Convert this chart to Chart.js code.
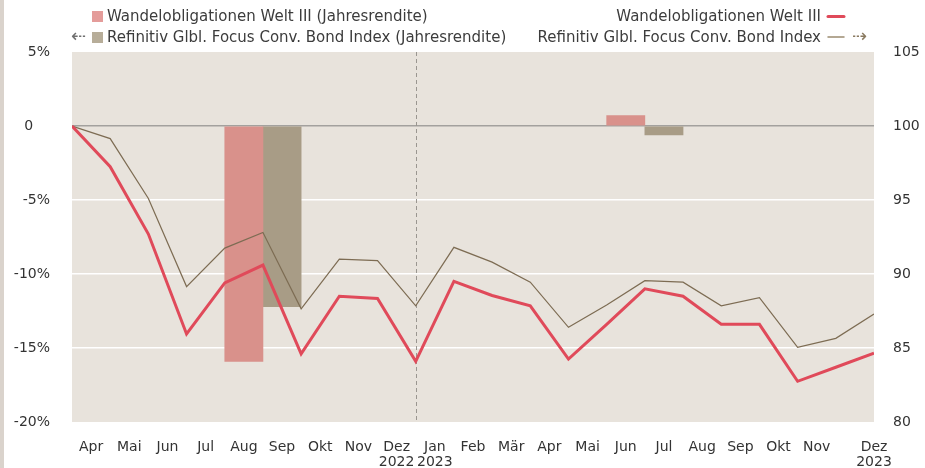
<!DOCTYPE html>
<html>
<head>
<meta charset="utf-8">
<script src="https://cdn.jsdelivr.net/npm/chart.js@4"></script>
<style>
  html, body { margin: 0; padding: 0; background: #fff; }
  #wrap { position: relative; width: 925px; height: 468px; }
  #stripe { position: absolute; left: 0; top: 0; width: 4px; height: 468px; background: #dad3cc; }
</style>
</head>
<body>
<div id="wrap">
  <canvas id="chart" width="925" height="468"></canvas>
  <div id="stripe"></div>
</div>
<script>
// months Apr 2022 .. Dez 2023
const months = ['Apr', 'Mai', 'Jun', 'Jul', 'Aug', 'Sep', 'Okt', 'Nov', 'Dez', 'Jan', 'Feb', 'Mär',
                'Apr', 'Mai', 'Jun', 'Jul', 'Aug', 'Sep', 'Okt', 'Nov', 'Dez'];
const years = ['', '', '', '', '', '', '', '', '2022', '2023', '', '', '', '', '', '', '', '', '', '', '2023'];

// indexed values at month ends (start = 100)
const fund = [100, 97.25, 92.7, 85.95, 89.4, 90.6, 84.6, 88.5, 88.35, 84.1, 89.5, 88.55,
              87.85, 84.25, 86.6, 89.0, 88.5, 86.6, 86.6, 82.75, 83.7, 84.65];
const index = [100, 99.15, 95.1, 89.15, 91.75, 92.8, 87.65, 91.0, 90.9, 87.85, 91.8, 90.8,
               89.45, 86.4, 87.9, 89.55, 89.45, 87.85, 88.4, 85.05, 85.65, 87.3];

// annual returns in %, with the month slot they are drawn in
const fundYearly = [-15.9, 0.7];
const fundYearlySlot = [4, 14];
const indexYearly = [-12.2, -0.6];
const indexYearlySlot = [5, 15];

const red = '#e04a5a';
const brown = '#7d6c53';
const txt = '#3c3c3c';
const font = 'DejaVu Sans';

const bgPlugin = {
  id: 'plotBg',
  beforeDraw(chart) {
    const { ctx, chartArea: a } = chart;
    ctx.save();
    ctx.fillStyle = '#e8e3dc';
    ctx.fillRect(a.left, a.top, a.right - a.left, a.bottom - a.top);
    ctx.restore();
  },
  beforeDatasetsDraw(chart) {
    // dashed year separator
    const { ctx, chartArea: a } = chart;
    const x = Math.round(chart.scales.x.getPixelForValue(9)) + 0.5;
    ctx.save();
    ctx.strokeStyle = '#9a9690';
    ctx.lineWidth = 1;
    ctx.setLineDash([4, 3]);
    ctx.beginPath();
    ctx.moveTo(x, a.top);
    ctx.lineTo(x, a.bottom);
    ctx.stroke();
    ctx.restore();
  }
};

const legendPlugin = {
  id: 'customLegend',
  afterDraw(chart) {
    const ctx = chart.ctx;
    ctx.save();
    ctx.font = '15px "' + font + '"';
    ctx.textBaseline = 'middle';

    // left column: bars
    ctx.fillStyle = '#e49c9a';
    ctx.fillRect(92, 11, 11, 11);
    ctx.fillStyle = '#b7ad99';
    ctx.fillRect(92, 32, 11, 11);
    ctx.fillStyle = txt;
    ctx.textAlign = 'left';
    ctx.fillText('Wandelobligationen Welt III (Jahresrendite)', 107, 17);
    ctx.fillText('Refinitiv Glbl. Focus Conv. Bond Index (Jahresrendite)', 107, 38);

    // right column: lines
    ctx.textAlign = 'right';
    ctx.fillText('Wandelobligationen Welt III', 821, 17);
    ctx.fillText('Refinitiv Glbl. Focus Conv. Bond Index', 821, 38);
    ctx.lineCap = 'round';
    ctx.strokeStyle = red;
    ctx.lineWidth = 3;
    ctx.beginPath(); ctx.moveTo(828, 16.5); ctx.lineTo(844, 16.5); ctx.stroke();
    ctx.strokeStyle = '#9c8c70';
    ctx.lineWidth = 1.5;
    ctx.beginPath(); ctx.moveTo(828, 37); ctx.lineTo(844, 37); ctx.stroke();

    // axis arrows
    ctx.font = '18px "' + font + '"';
    ctx.textAlign = 'left';
    ctx.fillStyle = '#6f6f6f';
    ctx.fillText('\u21E0', 71, 37);
    ctx.fillStyle = '#8a7a60';
    ctx.fillText('\u21E2', 852, 37);
    ctx.restore();
  }
};

new Chart(document.getElementById('chart'), {
  data: {
    datasets: [
      {
        type: 'line',
        label: 'Wandelobligationen Welt III',
        data: fund.map((v, i) => ({ x: i, y: v })),
        yAxisID: 'y2',
        borderColor: red,
        borderWidth: 3,
        pointRadius: 0,
        tension: 0,
        order: 0
      },
      {
        type: 'line',
        label: 'Refinitiv Glbl. Focus Conv. Bond Index',
        data: index.map((v, i) => ({ x: i, y: v })),
        yAxisID: 'y2',
        borderColor: brown,
        borderWidth: 1.2,
        pointRadius: 0,
        tension: 0,
        order: 1
      },
      {
        type: 'bar',
        label: 'Wandelobligationen Welt III (Jahresrendite)',
        data: fundYearly.map((v, i) => ({ x: fundYearlySlot[i] + 0.5, y: v })),
        yAxisID: 'y',
        backgroundColor: '#d9918b',
        grouped: false,
        barPercentage: 1,
        categoryPercentage: 1,
        order: 2
      },
      {
        type: 'bar',
        label: 'Refinitiv Glbl. Focus Conv. Bond Index (Jahresrendite)',
        data: indexYearly.map((v, i) => ({ x: indexYearlySlot[i] + 0.5, y: v })),
        yAxisID: 'y',
        backgroundColor: '#a89c86',
        grouped: false,
        barPercentage: 1,
        categoryPercentage: 1,
        order: 3
      }
    ]
  },
  options: {
    responsive: false,
    animation: false,
    layout: { padding: { top: 52, left: 0, right: 0, bottom: 0 } },
    plugins: { legend: { display: false }, tooltip: { enabled: false } },
    scales: {
      x: {
        type: 'linear',
        min: 0,
        max: months.length,
        offset: false,
        grid: { display: false, drawTicks: false },
        border: { display: false },
        afterBuildTicks: s => {
          s.ticks = months.map((m, i) => ({ value: i === months.length - 1 ? i + 1 : i + 0.5 }));
        },
        afterFit: s => { s.height = 46; },
        ticks: {
          autoSkip: false,
          maxRotation: 0,
          padding: 18,
          color: '#333',
          font: { family: font, size: 14, lineHeight: 1.08 },
          callback: (v, i) => years[i] ? [months[i], years[i]] : months[i]
        }
      },
      y: {
        position: 'left',
        min: -20,
        max: 5,
        afterFit: s => { s.width = 72; },
        border: { display: false },
        grid: {
          drawTicks: false,
          lineWidth: 1.5,
          color: c => c.tick.value === 0 ? '#a3a19e' : (c.tick.value > -20 && c.tick.value < 5 ? '#ffffff' : 'rgba(0,0,0,0)')
        },
        ticks: {
          stepSize: 5,
          padding: 22,
          color: '#333',
          font: { family: font, size: 14 },
          callback: v => v === 0 ? '0\u2003\u2009' : v + '%'
        }
      },
      y2: {
        position: 'right',
        min: 80,
        max: 105,
        afterFit: s => { s.width = 51; },
        border: { display: false },
        grid: { display: false, drawTicks: false },
        ticks: {
          stepSize: 5,
          padding: 19,
          color: '#333',
          font: { family: font, size: 14 }
        }
      }
    }
  },
  plugins: [bgPlugin, legendPlugin]
});
</script>
</body>
</html>
